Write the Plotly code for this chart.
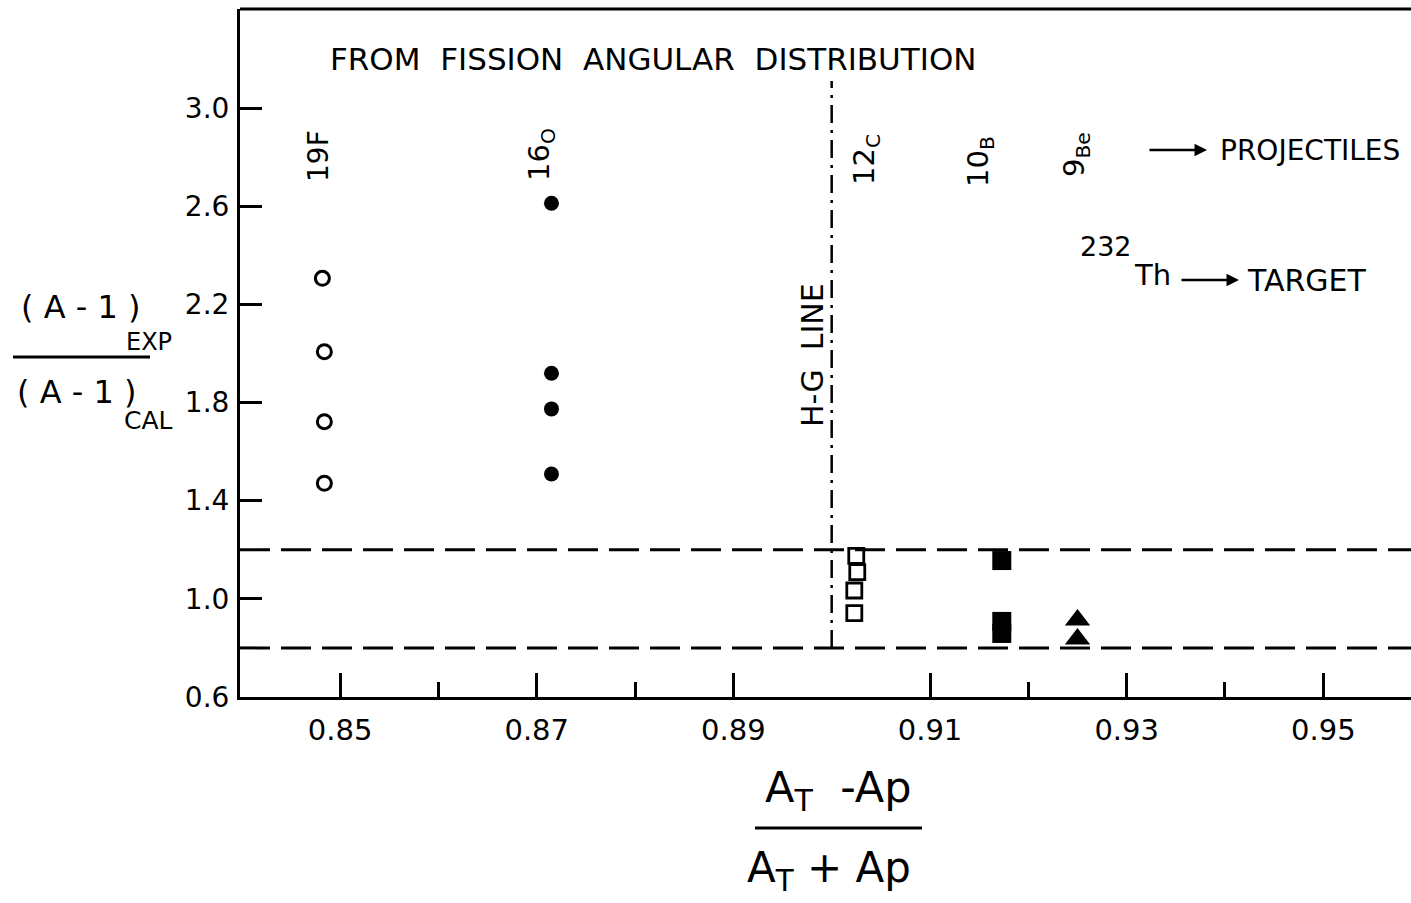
import plotly.graph_objects as go

# ---------------- data ----------------
f19_x = [0.8482, 0.8484, 0.8484, 0.8484]
f19_y = [2.306, 2.007, 1.722, 1.471]

o16_x = [0.8715, 0.8715, 0.8715, 0.8715]
o16_y = [2.612, 1.919, 1.774, 1.509]

c12_x = [0.9025, 0.9026, 0.9023, 0.9023]
c12_y = [1.175, 1.109, 1.034, 0.942]

b10_x = [0.9173, 0.9173, 0.9173]
b10_y = [1.156, 0.908, 0.859]

be9_x = [0.9250, 0.9250]
be9_y = [0.914, 0.836]

hg_line_x = 0.90
band_low = 0.8
band_high = 1.2

x_ticks = [0.85, 0.87, 0.89, 0.91, 0.93, 0.95]
x_tick_labels = ["0.85", "0.87", "0.89", "0.91", "0.93", "0.95"]
x_minor_ticks = [0.86, 0.88, 0.92, 0.94]
y_ticks = [0.6, 1.0, 1.4, 1.8, 2.2, 2.6, 3.0]
y_tick_labels = ["0.6", "1.0", "1.4", "1.8", "2.2", "2.6", "3.0"]

x_range = [0.83982, 0.95892]
y_range = [0.6, 3.4036]

FONT = "DejaVu Sans"
W, H = 1411, 903
L, R, T, B = 240, 0, 9, 206
PW, PH = W - L - R, H - T - B


def P(px, py):
    return (px - L) / PW, (H - B - py) / PH


fig = go.Figure()

fig.add_trace(go.Scatter(x=f19_x, y=f19_y, mode="markers",
                         marker=dict(symbol="circle-open", size=14, color="black",
                                     line=dict(width=3, color="black"))))
fig.add_trace(go.Scatter(x=o16_x, y=o16_y, mode="markers",
                         marker=dict(symbol="circle", size=15, color="black")))
fig.add_trace(go.Scatter(x=c12_x, y=c12_y, mode="markers",
                         marker=dict(symbol="square-open", size=15, color="black",
                                     line=dict(width=2.8, color="black"))))
fig.add_trace(go.Scatter(x=b10_x, y=b10_y, mode="markers",
                         marker=dict(symbol="square", size=19, color="black")))
fig.add_trace(go.Scatter(x=be9_x, y=be9_y, mode="markers",
                         marker=dict(symbol="triangle-up", size=22, color="black")))

shapes = []
# top border
shapes.append(dict(type="line", xref="paper", yref="paper", x0=0, x1=1, y0=1, y1=1,
                   line=dict(color="black", width=3)))
# dashed band lines
for yv in (band_low, band_high):
    shapes.append(dict(type="line", xref="paper", yref="y", x0=0, x1=1, y0=yv, y1=yv,
                       line=dict(color="black", width=3, dash="30px,11px")))
# H-G line
shapes.append(dict(type="line", xref="x", yref="y", x0=hg_line_x, x1=hg_line_x,
                   y0=band_low, y1=3.11,
                   line=dict(color="black", width=2.5, dash="18px,7px,3px,7px")))
# fraction bars for axis titles
shapes.append(dict(type="line", xref="paper", yref="paper",
                   x0=P(13, 0)[0], x1=P(150, 0)[0], y0=P(0, 357)[1], y1=P(0, 357)[1],
                   line=dict(color="black", width=3)))
shapes.append(dict(type="line", xref="paper", yref="paper",
                   x0=P(755, 0)[0], x1=P(922, 0)[0], y0=P(0, 828)[1], y1=P(0, 828)[1],
                   line=dict(color="black", width=3)))

ann = []


def text(px, py, s, size, angle=0, xanchor="center", yanchor="middle"):
    x, y = P(px, py)
    ann.append(dict(x=x, y=y, xref="paper", yref="paper", text=s, showarrow=False,
                    textangle=angle, xanchor=xanchor, yanchor=yanchor,
                    font=dict(family=FONT, size=size, color="black")))


def arrow(px0, px1, py):
    x, y = P(px1, py)
    ann.append(dict(x=x, y=y, xref="paper", yref="paper", text="", showarrow=True,
                    ax=px0 - px1, ay=0, arrowhead=2, arrowsize=1.0, arrowwidth=2.5,
                    arrowcolor="black"))


text(653, 59, "FROM\u00a0 FISSION\u00a0 ANGULAR\u00a0 DISTRIBUTION", 31)
text(318, 156, "19F", 28, -90)
text(541, 155, "16<sub>O</sub>", 29, -90)
text(866, 160, "12<sub>C</sub>", 29, -90)
text(980, 162, "10<sub>B</sub>", 29, -90)
text(1076, 155, "9<sub>Be</sub>", 29, -90)
text(812, 355, "H-G\u00a0 LINE", 30, -90)
arrow(1148, 1207, 150)
text(1218, 150, "PROJECTILES", 28, xanchor="left")
text(1078, 247, "232", 27, xanchor="left")
text(1132, 275, "Th", 29, xanchor="left")
arrow(1180, 1239, 280)
text(1245, 280, "TARGET", 30, xanchor="left")

# y-axis title (fraction)
text(80, 307, "(\u00a0A\u00a0-\u00a01\u00a0)", 32)
text(149, 342, "EXP", 24)
text(76, 392, "(\u00a0A\u00a0-\u00a01\u00a0)", 32)
text(148, 420, "CAL", 25)

# x-axis title (fraction)
text(838, 790, "A<sub>T</sub>\u00a0 -Ap", 43)
text(829, 870, "A<sub>T</sub>\u00a0+\u00a0Ap", 42)

fig.update_layout(
    width=W, height=H,
    margin=dict(l=L, r=R, t=T, b=B),
    plot_bgcolor="white", paper_bgcolor="white",
    showlegend=False,
    font=dict(family=FONT, color="black"),
    shapes=shapes, annotations=ann,
)
fig.update_xaxes(range=x_range, tickmode="array", tickvals=x_ticks, ticktext=x_tick_labels,
                 ticks="inside", ticklen=24, tickwidth=2.5, tickcolor="black",
                 showline=True, linewidth=3, linecolor="black",
                 showgrid=False, zeroline=False,
                 tickfont=dict(family=FONT, size=29, color="black"),
                 ticklabelstandoff=5,
                 minor=dict(tickmode="array", tickvals=x_minor_ticks, ticks="inside",
                            ticklen=15, tickwidth=2.5, tickcolor="black", showgrid=False))
fig.update_yaxes(range=y_range, tickmode="array", tickvals=y_ticks, ticktext=y_tick_labels,
                 ticks="inside", ticklen=22, tickwidth=2.5, tickcolor="black",
                 showline=True, linewidth=3, linecolor="black",
                 showgrid=False, zeroline=False,
                 tickfont=dict(family=FONT, size=28, color="black"),
                 ticklabelstandoff=2)

fig.write_html("out.html")
